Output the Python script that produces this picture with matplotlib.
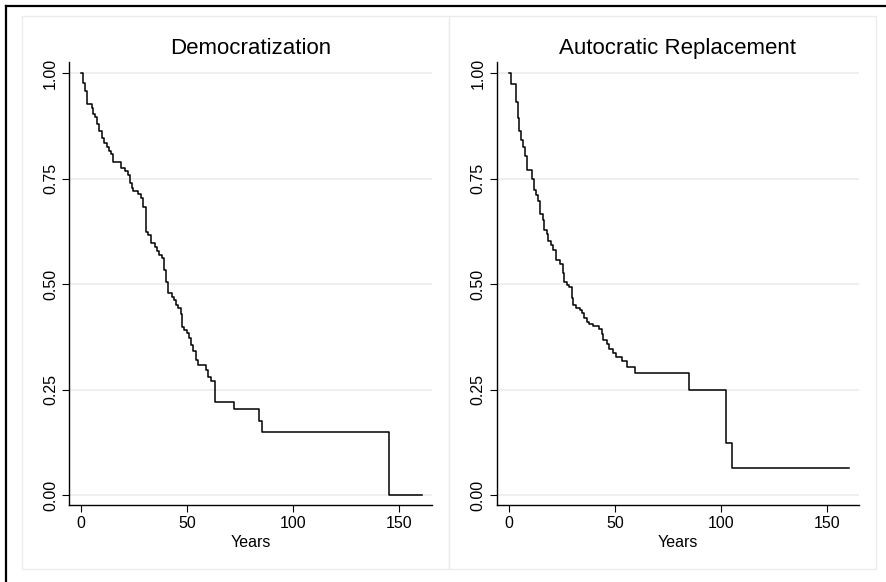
import matplotlib
matplotlib.use("Agg")
import matplotlib.pyplot as plt
from matplotlib.patches import Rectangle
from matplotlib.lines import Line2D

plt.rcParams['font.family'] = ['Liberation Sans', 'DejaVu Sans']

# Kaplan-Meier step data (time of drop, survival after drop)
demo_years = [0, 1.1, 1.9, 2.7, 5.0, 5.8, 6.6, 7.7, 8.6, 9.7, 11.0, 12.1, 13.4, 14.2,
              15.2, 18.9, 20.8, 22.3, 23.2, 24.0, 24.7, 27.0, 28.1, 29.4, 30.7, 31.7,
              32.9, 34.9, 36.0, 36.9, 38.1, 39.2, 40.0, 41.2, 42.8, 43.9, 44.8, 45.9,
              47.0, 47.8, 48.6, 49.8, 50.9, 51.9, 53.0, 54.1, 55.0, 59.0, 60.1, 61.2,
              63.2, 72.3, 84.1, 85.2, 145.4, 160.7]
demo_surv = [1.0, 0.976, 0.958, 0.926, 0.918, 0.904, 0.895, 0.878, 0.862, 0.845, 0.833,
             0.824, 0.816, 0.807, 0.790, 0.776, 0.768, 0.758, 0.740, 0.727, 0.720, 0.713,
             0.703, 0.682, 0.624, 0.616, 0.596, 0.587, 0.578, 0.569, 0.561, 0.533, 0.505,
             0.478, 0.470, 0.462, 0.450, 0.442, 0.429, 0.397, 0.391, 0.383, 0.371, 0.355,
             0.341, 0.320, 0.308, 0.296, 0.280, 0.270, 0.221, 0.203, 0.176, 0.150, 0.0, 0.0]

auto_years = [0, 0.8, 3.2, 4.1, 4.9, 5.7, 6.8, 7.5, 8.6, 10.7, 11.8, 12.7, 13.8, 14.6,
              15.9, 16.7, 17.8, 18.6, 19.7, 20.9, 22.2, 24.1, 25.3, 26.1, 27.2, 28.4,
              29.6, 30.3, 31.6, 33.5, 34.6, 35.5, 36.7, 37.7, 39.8, 42.6, 43.7, 44.5,
              46.4, 47.3, 49.2, 50.5, 53.1, 55.8, 59.4, 85.1, 102.2, 105.0, 160.5]
auto_surv = [1.0, 0.973, 0.932, 0.893, 0.862, 0.841, 0.825, 0.804, 0.770, 0.750, 0.722,
             0.711, 0.697, 0.666, 0.652, 0.628, 0.618, 0.602, 0.592, 0.581, 0.558, 0.547,
             0.525, 0.505, 0.498, 0.492, 0.466, 0.450, 0.442, 0.438, 0.431, 0.419, 0.411,
             0.405, 0.400, 0.393, 0.382, 0.367, 0.358, 0.345, 0.337, 0.328, 0.317, 0.304,
             0.290, 0.249, 0.124, 0.063, 0.063]

titles = ["Democratization", "Autocratic Replacement"]
x_ticks = [0, 50, 100, 150]
y_ticks = [0.0, 0.25, 0.5, 0.75, 1.0]
y_ticklabels = ["0.00", "0.25", "0.50", "0.75", "1.00"]

W, H = 887, 582
fig = plt.figure(figsize=(W / 100, H / 100), dpi=100)
fig.patch.set_facecolor('white')

def fx(px):
    return px / W

def fy(py):
    return 1 - py / H

# outer frame (left and top only, image is cropped)
fig.add_artist(Line2D([fx(6.5), fx(6.5)], [fy(5.5), 0], color='black', lw=1.6))
fig.add_artist(Line2D([fx(6.5), 1], [fy(5.5), fy(5.5)], color='black', lw=1.6))

# light panel borders
for x0, x1 in [(22, 449), (449, 876)]:
    fig.add_artist(Rectangle((fx(x0), fy(569)), fx(x1 - x0), (569 - 16) / H,
                             fill=False, edgecolor='#ececec', lw=1.0))

ax_left = [69.3, 496.7]
ax_right = [432, 859.3]
zero_px = [81, 509]
series = [(demo_years, demo_surv), (auto_years, auto_surv)]

for i in range(2):
    l, r = ax_left[i], ax_right[i]
    ax = fig.add_axes([fx(l), fy(505), fx(r - l), (505 - 62) / H])
    years, surv = series[i]
    ax.step(years, surv, where='post', color='black', lw=1.1)
    ax.set_xlim((l - zero_px[i]) / 2.12, (r - zero_px[i]) / 2.12)
    ax.set_ylim((495 - 505) / 422, (495 - 62) / 422)
    ax.set_xticks(x_ticks)
    ax.set_yticks(y_ticks)
    ax.set_yticklabels(y_ticklabels, rotation=90, va='center')
    ax.tick_params(axis='both', labelsize=11.5, length=5, width=0.8, color='black', pad=3)
    ax.grid(axis='y', color='#efefef', lw=1.5)
    ax.set_axisbelow(True)
    for s in ['top', 'right']:
        ax.spines[s].set_visible(False)
    for s in ['left', 'bottom']:
        ax.spines[s].set_linewidth(1.0)
    ax.set_xlabel("Years", fontsize=11.5, labelpad=3)
    ax.set_title(titles[i], fontsize=16, pad=6)

fig.savefig("out.png", dpi=100)
